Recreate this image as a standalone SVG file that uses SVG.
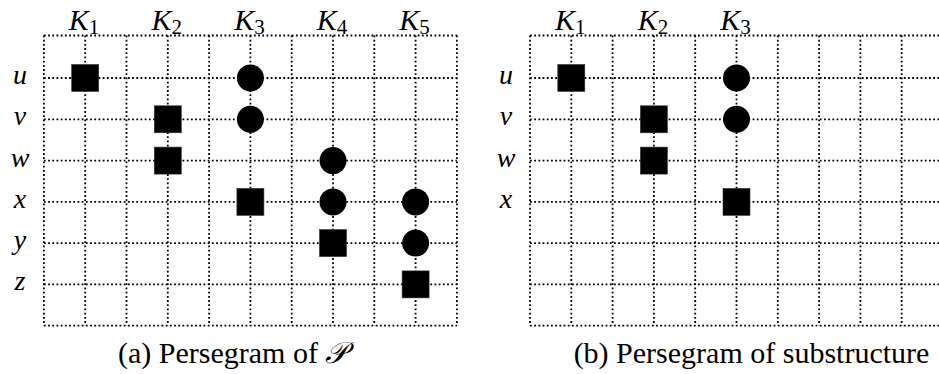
<svg xmlns="http://www.w3.org/2000/svg" width="939" height="374" viewBox="0 0 939 374">
<style>
.g{fill:none;stroke:#000;stroke-width:1.8;stroke-dasharray:1.8 2.4}
.sq{fill:#000;stroke:#333;stroke-width:0.6}
.ci{fill:#000}
.k{font-style:italic;font-size:30px;fill:#000}
.sub{font-style:normal;font-size:21px}
.r{font-style:italic;font-size:28px;fill:#000;text-anchor:middle}
.cap{font-size:30px;fill:#000}
</style>
<rect width="939" height="374" fill="#fff"/>
<g id="connectors">
<g id="grid-a">
<path class="g" d="M43.9 35.5V325.6M85.2 35.5V325.6M126.5 35.5V325.6M167.8 35.5V325.6M209.1 35.5V325.6M250.4 35.5V325.6M291.7 35.5V325.6M333 35.5V325.6M374.3 35.5V325.6M415.6 35.5V325.6M456.9 35.5V325.6"/>
<path class="g" d="M43.9 35.5H456.9M43.9 78H456.9M43.9 119.3H456.9M43.9 160.6H456.9M43.9 201.9H456.9M43.9 243.1H456.9M43.9 284.4H456.9M43.9 325.6H456.9"/>
</g>
<g id="grid-b">
<path class="g" d="M530 35.5V325.6M571.3 35.5V325.6M612.6 35.5V325.6M653.9 35.5V325.6M695.2 35.5V325.6M736.5 35.5V325.6M777.8 35.5V325.6M819.1 35.5V325.6M860.4 35.5V325.6M901.7 35.5V325.6"/>
<path class="g" d="M530 35.5H943M530 78H943M530 119.3H943M530 160.6H943M530 201.9H943M530 243.1H943M530 284.4H943M530 325.6H943"/>
</g>
</g>
<g id="labels-a" font-family="Liberation Serif, DejaVu Serif, serif">
<text class="k" x="84" y="30" text-anchor="middle">K<tspan class="sub" dy="4">1</tspan></text>
<text class="k" x="166.8" y="30" text-anchor="middle">K<tspan class="sub" dy="4">2</tspan></text>
<text class="k" x="249.4" y="30" text-anchor="middle">K<tspan class="sub" dy="4">3</tspan></text>
<text class="k" x="332" y="30" text-anchor="middle">K<tspan class="sub" dy="4">4</tspan></text>
<text class="k" x="414.6" y="30" text-anchor="middle">K<tspan class="sub" dy="4">5</tspan></text>
<text class="r" x="20" y="84">u</text>
<text class="r" x="20" y="125.3">v</text>
<text class="r" x="20" y="166.6">w</text>
<text class="r" x="20" y="207.9">x</text>
<text class="r" x="20" y="249.1">y</text>
<text class="r" x="20" y="290.4">z</text>
</g>
<g id="labels-b" font-family="Liberation Serif, DejaVu Serif, serif">
<text class="k" x="570.3" y="30" text-anchor="middle">K<tspan class="sub" dy="4">1</tspan></text>
<text class="k" x="652.9" y="30" text-anchor="middle">K<tspan class="sub" dy="4">2</tspan></text>
<text class="k" x="735.5" y="30" text-anchor="middle">K<tspan class="sub" dy="4">3</tspan></text>
<text class="r" x="506" y="84">u</text>
<text class="r" x="506" y="125.3">v</text>
<text class="r" x="506" y="166.6">w</text>
<text class="r" x="506" y="207.9">x</text>
</g>
<g id="nodes-a">
<g id="a-u-K1"><rect class="sq" x="71.7" y="64.5" width="27" height="27"/></g>
<g id="a-u-K3"><circle class="ci" cx="250.4" cy="78" r="13.5"/></g>
<g id="a-v-K2"><rect class="sq" x="154.3" y="105.8" width="27" height="27"/></g>
<g id="a-v-K3"><circle class="ci" cx="250.4" cy="119.3" r="13.5"/></g>
<g id="a-w-K2"><rect class="sq" x="154.3" y="147.1" width="27" height="27"/></g>
<g id="a-w-K4"><circle class="ci" cx="333" cy="160.6" r="13.5"/></g>
<g id="a-x-K3"><rect class="sq" x="236.9" y="188.4" width="27" height="27"/></g>
<g id="a-x-K4"><circle class="ci" cx="333" cy="201.9" r="13.5"/></g>
<g id="a-x-K5"><circle class="ci" cx="415.6" cy="201.9" r="13.5"/></g>
<g id="a-y-K4"><rect class="sq" x="319.5" y="229.6" width="27" height="27"/></g>
<g id="a-y-K5"><circle class="ci" cx="415.6" cy="243.1" r="13.5"/></g>
<g id="a-z-K5"><rect class="sq" x="402.1" y="270.9" width="27" height="27"/></g>
</g>
<g id="nodes-b">
<g id="b-u-K1"><rect class="sq" x="557.8" y="64.5" width="27" height="27"/></g>
<g id="b-u-K3"><circle class="ci" cx="736.5" cy="78" r="13.5"/></g>
<g id="b-v-K2"><rect class="sq" x="640.4" y="105.8" width="27" height="27"/></g>
<g id="b-v-K3"><circle class="ci" cx="736.5" cy="119.3" r="13.5"/></g>
<g id="b-w-K2"><rect class="sq" x="640.4" y="147.1" width="27" height="27"/></g>
<g id="b-x-K3"><rect class="sq" x="723" y="188.4" width="27" height="27"/></g>
</g>
<g id="captions" font-family="Liberation Serif, DejaVu Serif, serif">
<text class="cap" x="118" y="363">(a) Persegram of <tspan font-style="italic">𝒫</tspan></text>
<text class="cap" x="751.5" y="363" text-anchor="middle">(b) Persegram of substructure</text>
</g>
</svg>
